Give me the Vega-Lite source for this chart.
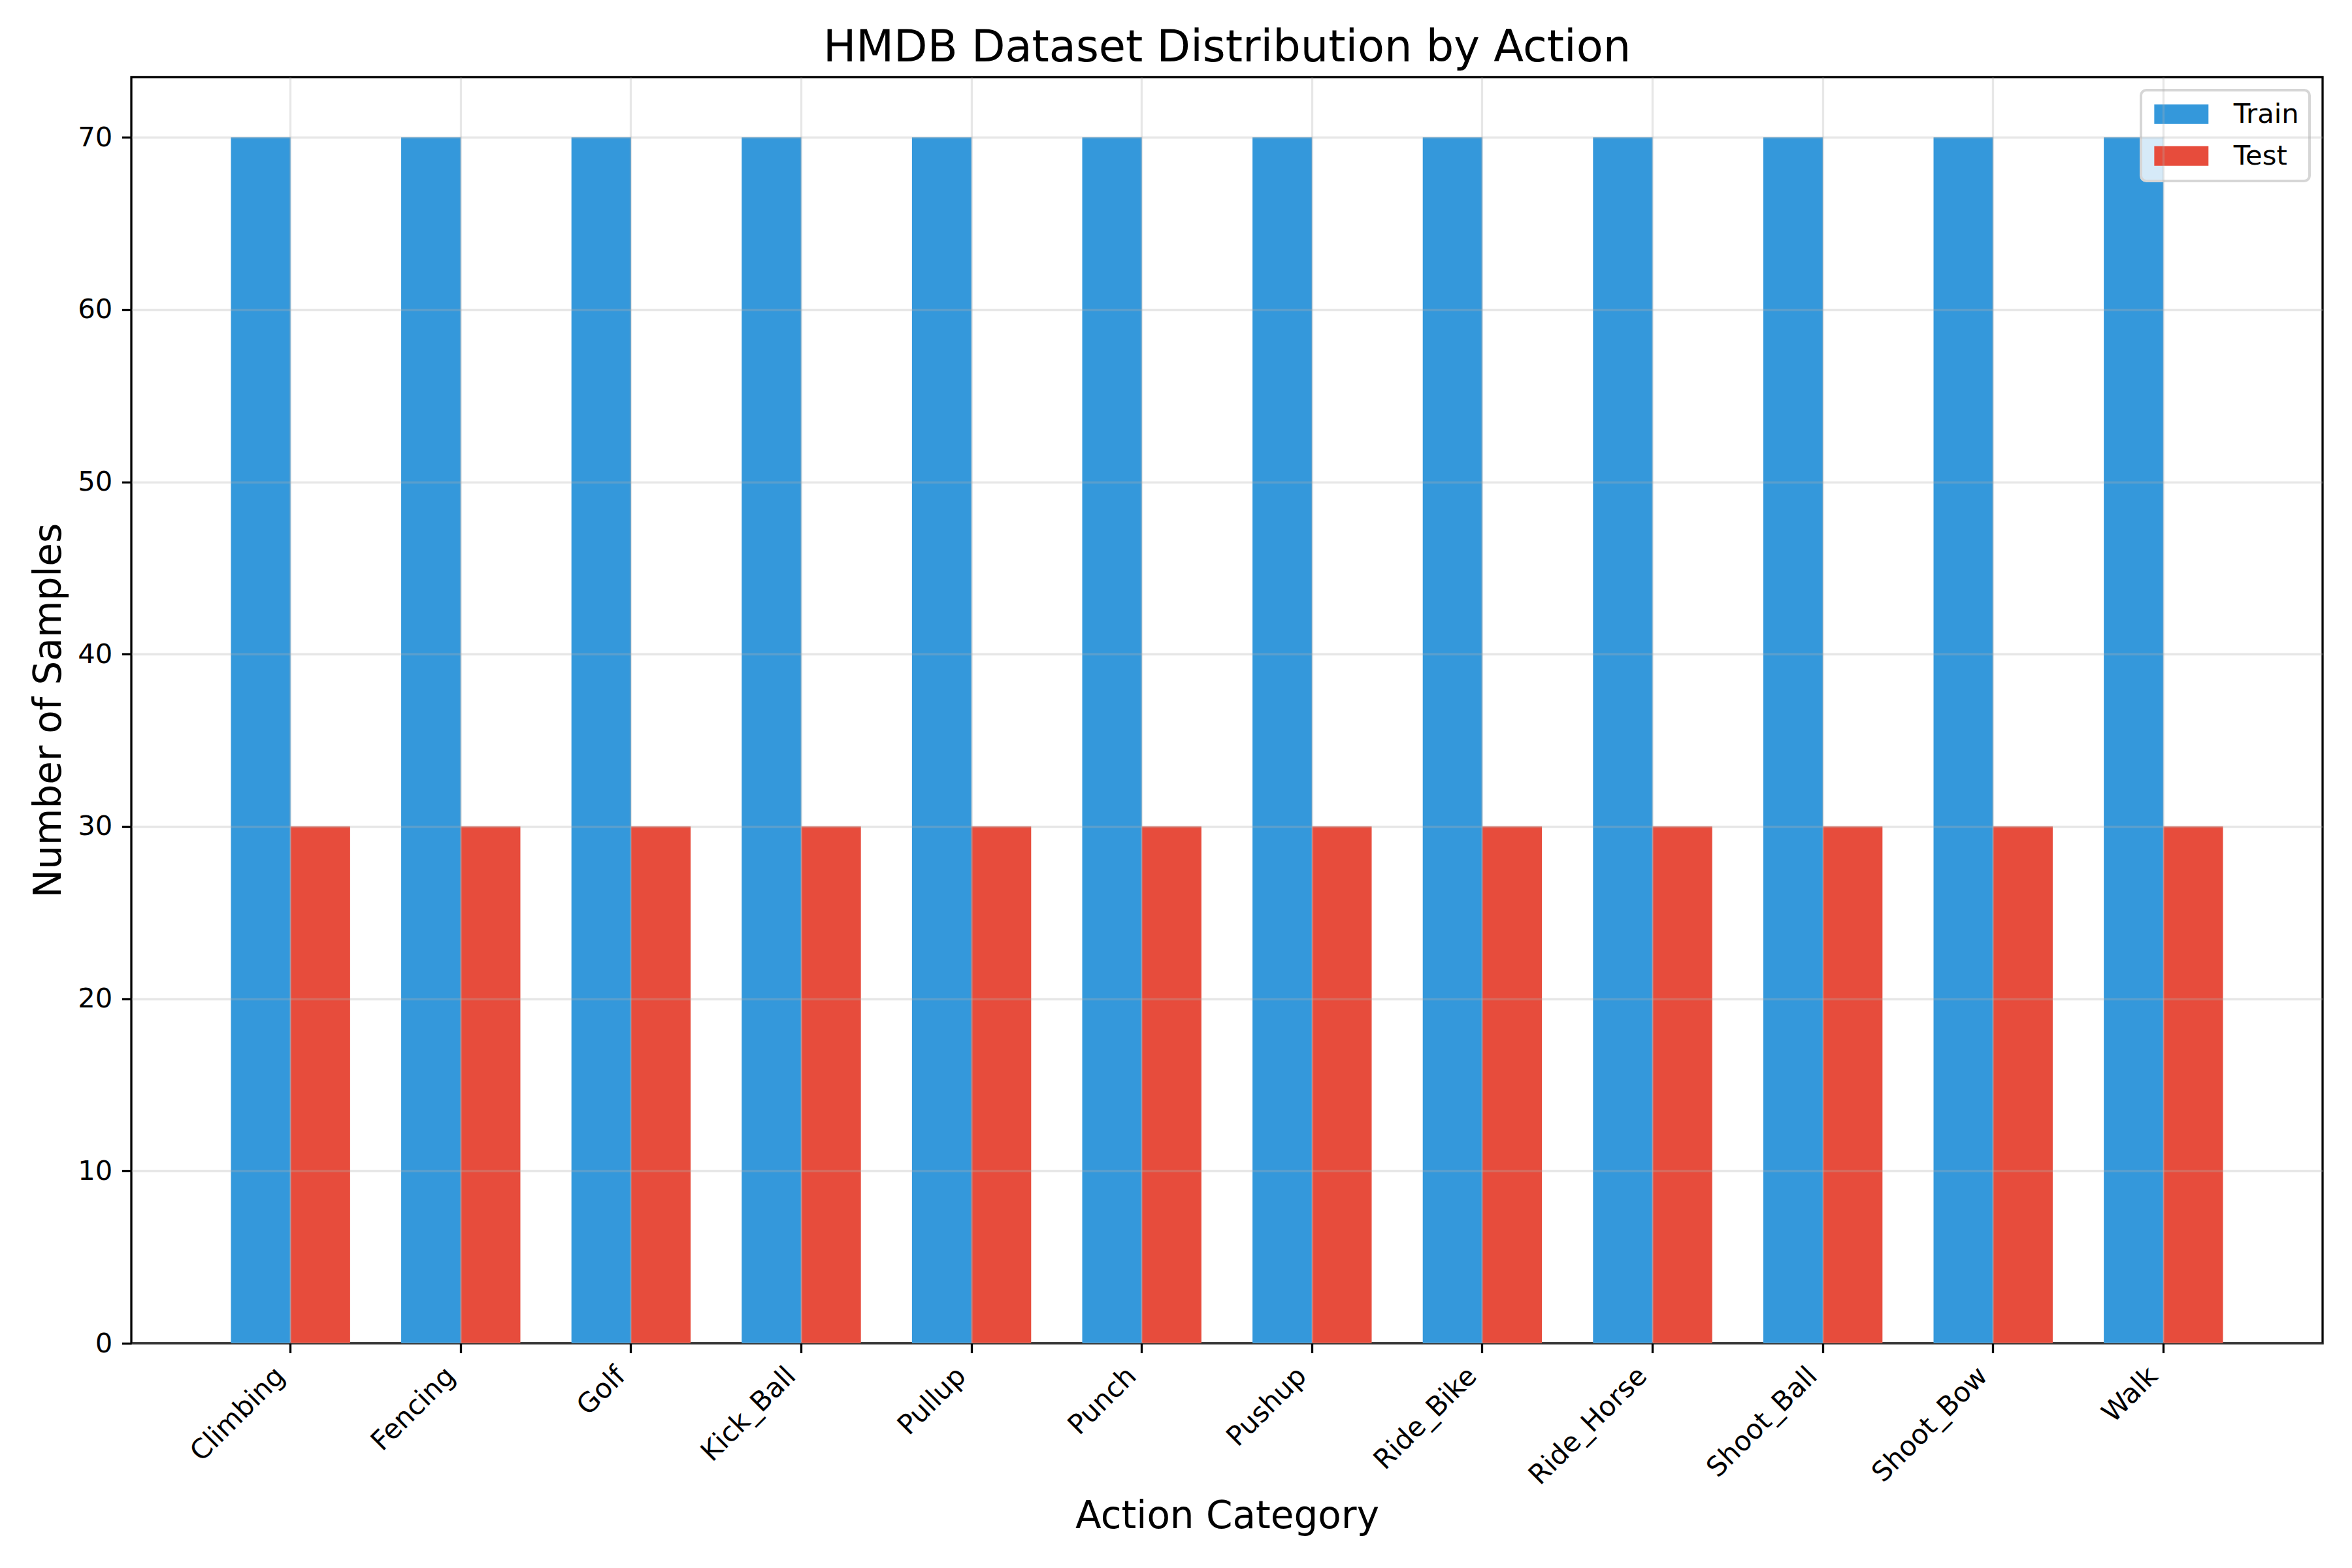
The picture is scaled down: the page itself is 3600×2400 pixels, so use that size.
{
  "$schema": "https://vega.github.io/schema/vega-lite/v6.json",
  "autosize": {"type": "none"},
  "padding": {"left": 201, "top": 118, "right": 45, "bottom": 344},
  "width": 3354,
  "height": 1938,
  "background": "white",
  "title": {
    "text": "HMDB Dataset Distribution by Action",
    "font": "DejaVu Sans",
    "fontSize": 67,
    "fontWeight": "normal",
    "color": "#000000",
    "anchor": "middle",
    "offset": 10
  },
  "config": {
    "font": "DejaVu Sans",
    "view": {"stroke": "#000000", "strokeWidth": 3.3},
    "axis": {
      "labelFont": "DejaVu Sans",
      "labelFontSize": 41.7,
      "labelColor": "#000000",
      "labelLimit": 0,
      "titleFont": "DejaVu Sans",
      "titleFontSize": 58,
      "titleFontWeight": "normal",
      "titleColor": "#000000",
      "domain": false,
      "tickColor": "#000000",
      "tickWidth": 3.3,
      "tickSize": 14.6,
      "labelPadding": 14.6,
      "grid": true,
      "gridColor": "#b0b0b0",
      "gridOpacity": 0.3,
      "gridWidth": 3.3
    },
    "legend": {
      "orient": "none",
      "legendX": 3076,
      "legendY": 20,
      "labelFont": "DejaVu Sans",
      "labelFontSize": 41.7,
      "labelColor": "#000000",
      "symbolType": "M-1.1,-1H4.43V1H-1.1Z",
      "symbolSize": 900,
      "symbolStrokeWidth": 0,
      "labelOffset": 84,
      "padding": 16,
      "rowPadding": 21,
      "strokeColor": "#d6d6d6",
      "strokeWidth": 4,
      "fillColor": "rgba(255,255,255,0.8)",
      "cornerRadius": 8
    }
  },
  "data": {
    "values": [
      {"action": "Climbing", "split": "Train", "count": 70},
      {"action": "Climbing", "split": "Test", "count": 30},
      {"action": "Fencing", "split": "Train", "count": 70},
      {"action": "Fencing", "split": "Test", "count": 30},
      {"action": "Golf", "split": "Train", "count": 70},
      {"action": "Golf", "split": "Test", "count": 30},
      {"action": "Kick_Ball", "split": "Train", "count": 70},
      {"action": "Kick_Ball", "split": "Test", "count": 30},
      {"action": "Pullup", "split": "Train", "count": 70},
      {"action": "Pullup", "split": "Test", "count": 30},
      {"action": "Punch", "split": "Train", "count": 70},
      {"action": "Punch", "split": "Test", "count": 30},
      {"action": "Pushup", "split": "Train", "count": 70},
      {"action": "Pushup", "split": "Test", "count": 30},
      {"action": "Ride_Bike", "split": "Train", "count": 70},
      {"action": "Ride_Bike", "split": "Test", "count": 30},
      {"action": "Ride_Horse", "split": "Train", "count": 70},
      {"action": "Ride_Horse", "split": "Test", "count": 30},
      {"action": "Shoot_Ball", "split": "Train", "count": 70},
      {"action": "Shoot_Ball", "split": "Test", "count": 30},
      {"action": "Shoot_Bow", "split": "Train", "count": 70},
      {"action": "Shoot_Bow", "split": "Test", "count": 30},
      {"action": "Walk", "split": "Train", "count": 70},
      {"action": "Walk", "split": "Test", "count": 30}
    ]
  },
  "mark": {"type": "bar"},
  "encoding": {
    "x": {
      "field": "action",
      "type": "nominal",
      "sort": null,
      "scale": {"paddingInner": 0.3, "paddingOuter": 0.585},
      "axis": {
        "title": "Action Category",
        "labelAngle": -45,
        "labelAlign": "right",
        "labelBaseline": "bottom",
        "labelPadding": 44,
        "titlePadding": 36,
        "zindex": 1
      }
    },
    "xOffset": {
      "field": "split",
      "type": "nominal",
      "sort": ["Train", "Test"],
      "scale": {"paddingInner": 0, "paddingOuter": 0}
    },
    "y": {
      "field": "count",
      "type": "quantitative",
      "scale": {"domain": [0, 73.5], "nice": false},
      "axis": {
        "title": "Number of Samples",
        "values": [0, 10, 20, 30, 40, 50, 60, 70],
        "titlePadding": 14,
        "zindex": 1
      }
    },
    "color": {
      "field": "split",
      "type": "nominal",
      "sort": ["Train", "Test"],
      "scale": {"domain": ["Train", "Test"], "range": ["#3498db", "#e74c3c"]},
      "legend": {"title": null}
    }
  }
}
